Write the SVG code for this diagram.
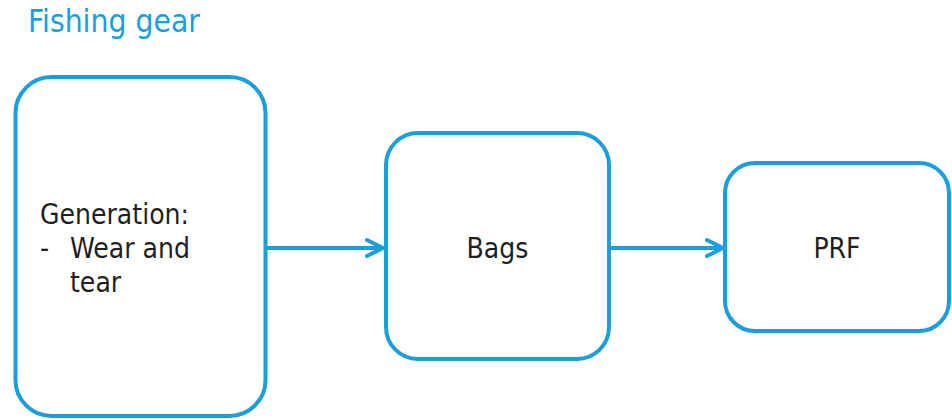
<svg xmlns="http://www.w3.org/2000/svg" width="952" height="419" viewBox="0 0 952 419">
<style>
.box{fill:#fff;stroke:#1a9fda;stroke-width:4}
.lbl{font-family:"DejaVu Sans Condensed","DejaVu Sans",sans-serif;font-size:28px;fill:#231f20}
.title{font-family:"DejaVu Sans Condensed","DejaVu Sans",sans-serif;font-size:31.5px;fill:#1a9fda}
.conn{fill:none;stroke:#1a9fda;stroke-width:4;stroke-linecap:round;stroke-linejoin:round}
</style>
<rect width="952" height="419" fill="#fff"/>
<text class="title" x="28" y="32">Fishing gear</text>
<g id="node-generation">
<rect class="box" x="15.5" y="77" width="250" height="339" rx="36"/>
<text class="lbl" x="40" y="224">Generation:</text>
<text class="lbl" x="40" y="258">-</text>
<text class="lbl" x="70" y="258">Wear and</text>
<text class="lbl" x="70" y="292">tear</text>
</g>
<g id="node-bags">
<rect class="box" x="386" y="133" width="223" height="226" rx="32"/>
<text class="lbl" x="497.5" y="258" text-anchor="middle">Bags</text>
</g>
<g id="node-prf">
<rect class="box" x="725" y="163" width="224" height="168" rx="30"/>
<text class="lbl" x="837" y="258" text-anchor="middle">PRF</text>
</g>
<g id="connectors">
<path class="conn" d="M267 248H383M367 240L383 248L367 256"/>
<path class="conn" d="M611 248H723M707 240L723 248L707 256"/>
</g>
</svg>
